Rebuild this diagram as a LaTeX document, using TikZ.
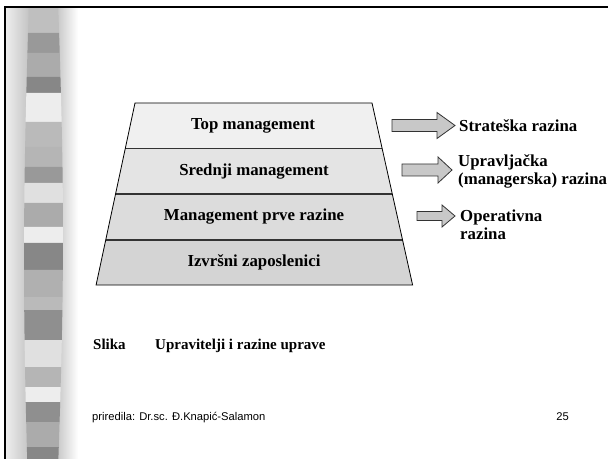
\documentclass[tikz,border=0pt]{standalone}
\usepackage{fontspec}
\setmainfont{Liberation Serif}
\newfontfamily\footfont{Liberation Sans}
\definecolor{layerA}{HTML}{F0F0F0}
\definecolor{layerB}{HTML}{E4E4E4}
\definecolor{layerC}{HTML}{DCDCDC}
\definecolor{layerD}{HTML}{D4D4D4}
\definecolor{arrowgrey}{HTML}{C8C8C8}
% block arrow: tail x, head base x, tip x, centre y, shaft half width, head half width
\newcommand\blockarrow[6]{%
  \filldraw[blockarr] (#1,#4-#5) -- (#2,#4-#5) -- (#2,#4-#6) -- (#3,#4)
    -- (#2,#4+#6) -- (#2,#4+#5) -- (#1,#4+#5) -- cycle;}
\tikzset{
  lvltext/.style={font=\fontsize{16.8bp}{19bp}\selectfont\bfseries, inner sep=0pt},
  sidetext/.style={font=\fontsize{16.8bp}{18.3bp}\selectfont\bfseries, inner sep=0pt, align=left},
  captext/.style={font=\fontsize{15bp}{17bp}\selectfont\bfseries, inner sep=0pt},
  foottext/.style={font=\footfont\fontsize{11.2bp}{13bp}\selectfont, inner sep=0pt},
  divider/.style={draw=black!80, line width=1.4bp},
  blockarr/.style={fill=arrowgrey, draw=black!80, line width=0.8bp, line join=miter},
}
\begin{document}
\begin{tikzpicture}[x=1bp,y=-1bp]
\useasboundingbox (0,0) rectangle (608,459);
\fill[white] (0,0) rectangle (608,459);

% shaded side band
\shade[left color=black!7, right color=black!24] (6,8) rectangle (30,459);
\shade[left color=black!23, right color=white] (56,8) rectangle (78,459);
\foreach \ya/\yb/\g in {8/33/75, 33/53/60, 53/77/67, 77/93/53, 93/122/93,
    122/147/73, 147/167/71, 167/183/60, 183/203/88, 203/227/67, 227/243/93,
    243/270/53, 270/297/69, 297/310/73, 310/340/56, 340/367/88, 367/387/71,
    387/402/93, 402/422/56, 422/447/67, 447/459/53} {
  \fill[white!\g!black] ({29-5*sin(0.34615*\ya)},\ya) -- ({58+5*sin(0.38298*\ya)},\ya)
    -- ({58+5*sin(0.38298*\yb)},\yb) -- ({29-5*sin(0.34615*\yb)},\yb) -- cycle;
}

% slide frame
\draw[line width=2bp] (5,459) -- (5,7) -- (608,7);

% pyramid layers
\fill[layerA] (135,103) -- (372,103) -- (382.1,148.5) -- (125.3,148.5) -- cycle;
\fill[layerB] (125.3,148.5) -- (382.1,148.5) -- (392.3,194) -- (115.5,194) -- cycle;
\fill[layerC] (115.5,194) -- (392.3,194) -- (402.6,240) -- (105.7,240) -- cycle;
\fill[layerD] (105.7,240) -- (402.6,240) -- (412.6,285) -- (96.1,285) -- cycle;
\draw[divider] (125.3,148.5) -- (382.1,148.5);
\draw[divider] (115.5,194) -- (392.3,194);
\draw[divider] (105.7,240) -- (402.6,240);
\draw[line width=0.8bp] (135,103) -- (372,103) -- (412.6,285) -- (96.1,285) -- cycle;

\node[lvltext] (top) at (253,126) {Top management};
\node[lvltext] (mid) at (254,171.5) {Srednji management};
\node[lvltext] (first) at (254,217) {Management prve razine};
\node[lvltext] (exec) at (254,262.5) {Izvršni zaposlenici};

% level arrows
\blockarrow{392}{437}{455}{125.5}{6}{13}
\blockarrow{402}{438}{452}{170}{6}{13}
\blockarrow{417}{442}{455}{216}{4.5}{11}

\node[sidetext, anchor=base west] (strat) at (459,131.5) {Strateška razina};
\node[sidetext, anchor=base west] (manag) at (458,184.5) {Upravljačka\\(managerska) razina};
\node[sidetext, anchor=base west] (oper) at (460,240) {Operativna\\razina};

% caption
\node[captext, anchor=base west] (slika) at (93,349) {Slika};
\node[captext, anchor=base west] (captxt) at (155,349) {Upravitelji i razine uprave};

% footer
\node[foottext, anchor=base west] (author) at (92,420) {priredila: Dr.sc. Đ.Knapić-Salamon};
\node[foottext, anchor=base east] (pageno) at (569,420) {25};
\end{tikzpicture}
\end{document}
